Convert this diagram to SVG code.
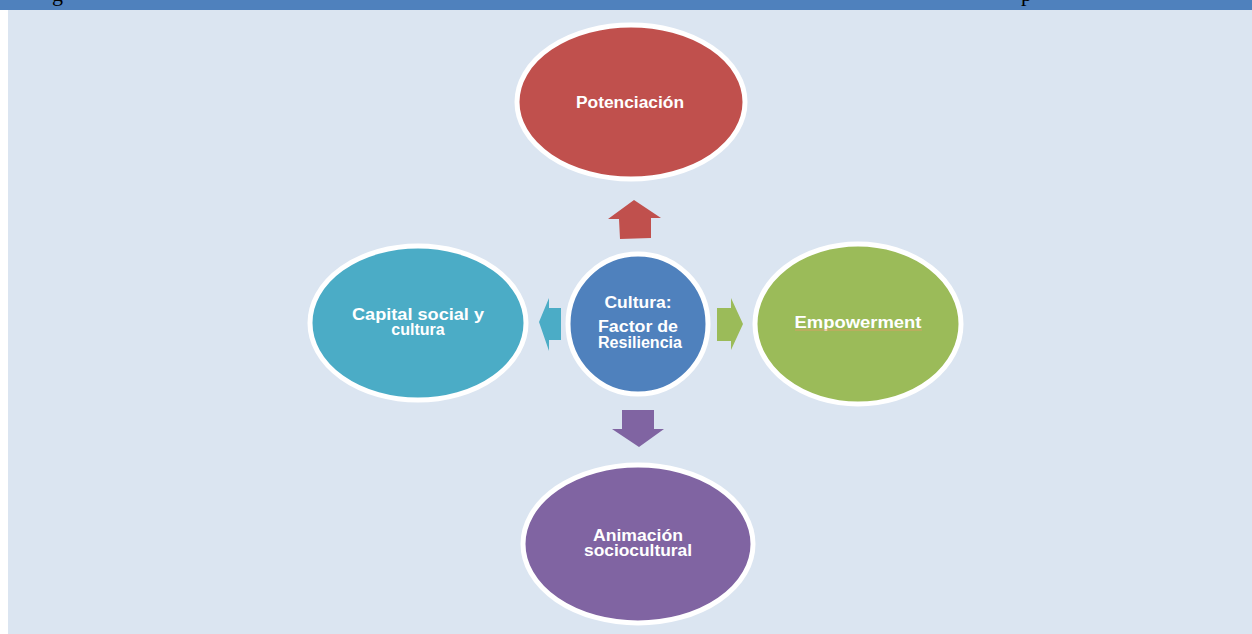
<svg xmlns="http://www.w3.org/2000/svg" width="1252" height="634" viewBox="0 0 1252 634">
<style>
.lbl{font-family:"Liberation Sans",Arial,sans-serif;font-weight:bold;font-size:16px;fill:#FFFFFF;text-anchor:middle}
.node{stroke:#FFFFFF;stroke-width:5}
.frag{font-family:"Liberation Serif","Times New Roman",serif;font-size:22px;fill:#000000}
</style>
<rect x="0" y="0" width="1252" height="634" fill="#FFFFFF"/>
<rect x="0" y="0" width="1252" height="10" fill="#4F81BD"/>
<rect x="8" y="10" width="1244" height="624" fill="#DBE5F1"/>
<text class="frag" x="52" y="1">g</text>
<text class="frag" x="1021" y="1">p</text>
<g id="connectors">
<polygon points="634,200 661,218 651,218 651,238 620,239 619,219 608,219" fill="#C0504D"/>
<polygon points="622,410 654,410 654,429 664,429 639,447 612,429 622,429" fill="#8064A2"/>
<polygon points="561,308 561,340 549,340 549,351 539,322 549,298 549,308" fill="#4BACC6"/>
<polygon points="717,308 731,308 731,298 743,324 731,350 731,341 717,341" fill="#9BBB59"/>
</g>
<g id="potenciacion">
<ellipse class="node" cx="631" cy="102" rx="114" ry="77" fill="#C0504D"/>
<text class="lbl" x="630" y="108" textLength="108" lengthAdjust="spacingAndGlyphs">Potenciación</text>
</g>
<g id="capital">
<ellipse class="node" cx="418" cy="323" rx="108" ry="77" fill="#4BACC6"/>
<text class="lbl" x="418" y="320" textLength="132" lengthAdjust="spacingAndGlyphs">Capital social y</text>
<text class="lbl" x="418" y="335">cultura</text>
</g>
<g id="empowerment">
<ellipse class="node" cx="858" cy="324" rx="103" ry="80" fill="#9BBB59"/>
<text class="lbl" x="858" y="328" textLength="127" lengthAdjust="spacingAndGlyphs">Empowerment</text>
<line x1="795" y1="330" x2="922" y2="330" stroke="#D9A066" stroke-width="1"/>
</g>
<g id="animacion">
<ellipse class="node" cx="638" cy="544" rx="115" ry="79" fill="#8064A2"/>
<text class="lbl" x="638" y="541" textLength="90" lengthAdjust="spacingAndGlyphs">Animación</text>
<text class="lbl" x="638" y="556" textLength="108" lengthAdjust="spacingAndGlyphs">sociocultural</text>
</g>
<g id="cultura">
<circle class="node" cx="638" cy="324" r="70" fill="#4F81BD"/>
<text class="lbl" x="638" y="308" textLength="67" lengthAdjust="spacingAndGlyphs">Cultura:</text>
<text class="lbl" x="638" y="332" textLength="80" lengthAdjust="spacingAndGlyphs">Factor de</text>
<text class="lbl" x="640" y="348" textLength="84" lengthAdjust="spacingAndGlyphs">Resiliencia</text>
</g>
</svg>
